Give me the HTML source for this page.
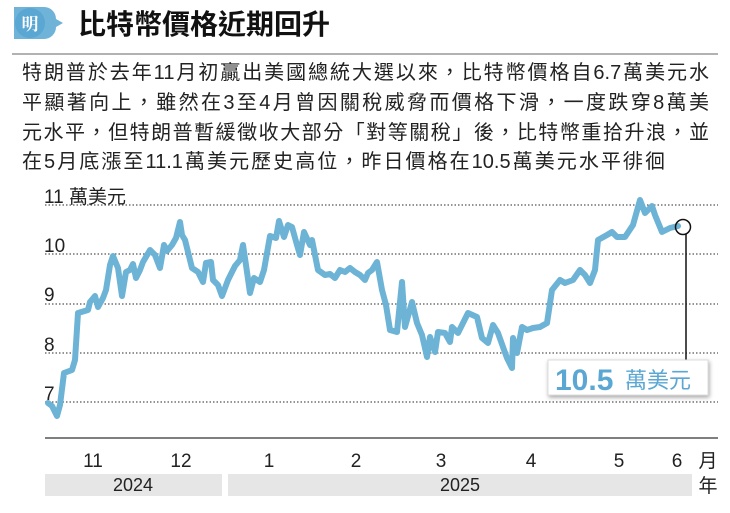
<!DOCTYPE html><html><head><meta charset="utf-8"><style>
body{margin:0;width:730px;height:513px;background:#fff;overflow:hidden;position:relative;font-family:"Liberation Sans","Noto Sans CJK TC",sans-serif;color:#222}
.t{position:absolute;left:22px;width:687px;font-size:20px;line-height:22px;text-align:justify;text-align-last:justify;white-space:nowrap}
</style></head><body>
<svg width="730" height="513" style="position:absolute;left:0;top:0">
<path d="M14 7 h30 a12 12 0 0 1 12 12 l7 4 l-7 4 a12 12 0 0 1 -12 12 h-30z" fill="#6fb3d8"/>
<circle cx="30" cy="23" r="15" fill="#5aa7d3"/>
<text x="30" y="30" font-size="17" fill="#fff" text-anchor="middle" font-family="Noto Serif CJK SC,serif" font-weight="bold">明</text>
<text x="78" y="34" font-size="28" font-weight="bold" fill="#111" font-family="Liberation Sans,Noto Sans CJK TC,sans-serif">比特幣價格近期回升</text>
<line x1="12" y1="54" x2="718" y2="54" stroke="#999" stroke-width="1.5"/>
<g stroke="#555" stroke-width="1.2" stroke-dasharray="1.5,2">
<line x1="45" y1="205" x2="718" y2="205"/><line x1="45" y1="254" x2="718" y2="254"/><line x1="45" y1="304" x2="718" y2="304"/><line x1="45" y1="353" x2="718" y2="353"/><line x1="45" y1="402" x2="718" y2="402"/></g>
<line x1="45" y1="438" x2="718" y2="438" stroke="#333" stroke-width="1.2"/>
<g font-size="19" fill="#222" font-family="Liberation Sans,Noto Sans CJK TC,sans-serif">
<text x="44" y="203">11 萬美元</text><text x="44" y="252">10</text><text x="44" y="301">9</text><text x="44" y="351">8</text><text x="44" y="400">7</text>
<g text-anchor="middle"><text x="93" y="467">11</text><text x="181" y="467">12</text><text x="269" y="467">1</text><text x="356" y="467">2</text><text x="441" y="467">3</text><text x="531" y="467">4</text><text x="619" y="467">5</text><text x="677" y="467">6</text><text x="708" y="467">月</text><text x="708" y="492">年</text></g></g>
<rect x="45" y="474" width="177" height="22" fill="#e6e6e6"/><rect x="228" y="474" width="464" height="22" fill="#e6e6e6"/>
<g font-size="18" fill="#222" text-anchor="middle"><text x="133" y="491">2024</text><text x="460" y="491">2025</text></g>
<polyline fill="none" stroke="#6db3d6" stroke-width="6" stroke-linejoin="round" stroke-linecap="round" points="48,403 52,406 57,416 60,405 64,373 72,370 75,360 78,313 88,310 90,302 95,296 98,307 103,298 106,290 110,265 113,256 118,268 122,296 126,272 130,270 133,264 136,278 140,270 143,262 150,250 155,255 160,268 164,245 167,251 172,245 176,238 180,222 182,235 185,240 192,268 198,272 203,282 206,263 211,262 213,280 218,285 222,296 228,280 235,266 240,260 243,245 246,265 250,293 254,278 260,282 264,270 270,236 276,238 279,221 284,237 288,225 292,227 297,245 300,255 304,232 310,245 312,240 318,270 325,275 330,274 335,278 340,270 345,272 350,268 355,272 360,275 365,280 368,273 372,270 377,262 382,290 386,305 390,330 397,332 402,282 405,327 412,302 417,323 422,335 427,357 430,337 435,352 438,332 445,333 450,342 452,327 458,333 468,313 477,317 482,338 488,343 493,325 498,333 503,347 507,358 512,368 513,338 517,353 522,327 527,330 533,328 540,327 547,323 552,290 560,280 565,283 573,280 580,270 585,275 590,283 595,270 598,240 607,235 612,232 617,237 625,237 633,225 640,200 645,213 652,206 655,215 662,232 670,228 678,226"/>
<circle cx="683" cy="227" r="7.5" fill="none" stroke="#111" stroke-width="1.5"/>
<line x1="686" y1="234" x2="686" y2="360" stroke="#111" stroke-width="1.5"/>
<rect x="548" y="360" width="160" height="35" fill="#fff" stroke="#ddd" style="filter:drop-shadow(1px 2px 2px rgba(0,0,0,.35))"/>
<text x="555" y="390" font-size="30" font-weight="bold" fill="#5aa7d3">10.5</text>
<text x="625" y="388" font-size="22" fill="#5aa7d3" font-family="Liberation Sans,Noto Sans CJK TC,sans-serif">萬美元</text>
</svg>
<div class="t" style="top:62px">特朗普於去年11月初贏出美國總統大選以來，比特幣價格自6.7萬美元水</div>
<div class="t" style="top:92px">平顯著向上，雖然在3至4月曾因關稅威脅而價格下滑，一度跌穿8萬美</div>
<div class="t" style="top:122px">元水平，但特朗普暫緩徵收大部分「對等關稅」後，比特幣重拾升浪，並</div>
<div class="t" style="top:151px;width:643px">在5月底漲至11.1萬美元歷史高位，昨日價格在10.5萬美元水平徘徊</div>
</body></html>
